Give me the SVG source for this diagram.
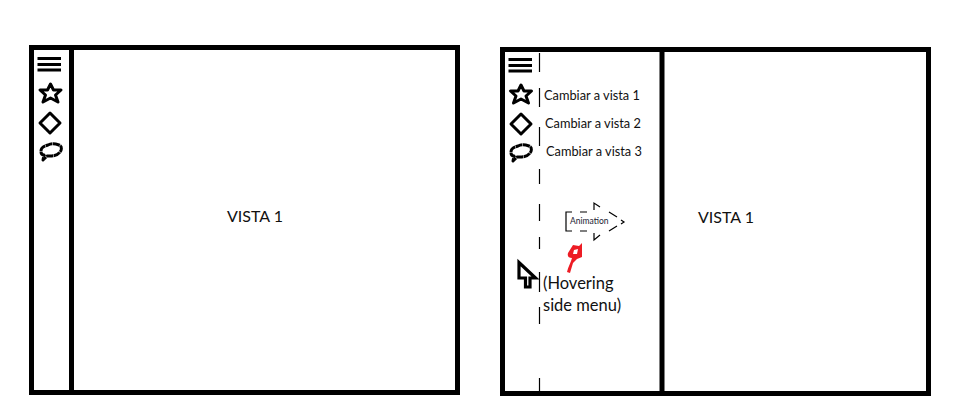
<svg xmlns="http://www.w3.org/2000/svg" width="977" height="418" viewBox="0 0 977 418">
<style>
.frame{fill:none;stroke:#000;stroke-width:5}
.ico{fill:none;stroke:#000;stroke-width:3;stroke-linejoin:round}
.bar{fill:#000}
text{font-family:Lato,"Open Sans","Liberation Sans",sans-serif;fill:#111}
.v{font-size:16px}
.m{font-size:12.8px}
.h{font-size:16.500px}
.a{font-size:8.500px;fill:#223}
.dash{stroke:#000;stroke-width:1.200;fill:none}
</style>
<rect width="977" height="418" fill="#fff"/>
<defs>
<g id="burger"><rect class="bar" x="0" y="0" width="23.500" height="3"/><rect class="bar" x="0" y="6" width="23.500" height="3"/><rect class="bar" x="0" y="11.500" width="23.500" height="3"/></g>
<path id="star" class="ico" d="M0-9 L3-3 L10.500-3 L5 2 L7.500 9 L0 5 L-7.500 9 L-5 2 L-10.500-3 L-3-3Z"/>
<path id="diamond" class="ico" d="M0-10 L10 0 L0 10 L-10 0Z"/>
<path id="bubble" class="ico" stroke-dasharray="7 0.500" d="M-10-1 C-10-5-6-6-3-7 C1-9 5-8 8-7 C11-6 11-2 9 0 C7 3 3 4-1 4 L-4 4 L-8 8 L-7 3 C-10 3-10 1-10-1Z"/>
</defs>
<g id="left-frame"><rect class="frame" x="31.500" y="47.500" width="426" height="345"/><path class="frame" d="M71.500 47.500V392.500"/></g>
<g id="left-menu">
<use href="#burger" x="37.500" y="57"/>
<use href="#star" x="50.500" y="93"/>
<use href="#diamond" x="50" y="123"/>
<use href="#bubble" x="51" y="152"/>
</g>
<g id="left-view"><text class="v" x="227" y="222">VISTA 1</text></g>
<g id="right-frame"><rect class="frame" x="502.500" y="49.500" width="426" height="344"/><path class="frame" d="M662 49.500V393.500"/></g>
<g id="right-menu">
<use href="#burger" x="508.500" y="58"/>
<use href="#star" x="521" y="94"/>
<use href="#diamond" x="521" y="124"/>
<use href="#bubble" x="521" y="153"/>
<text class="m" x="544" y="100">Cambiar a vista 1</text>
<text class="m" x="545" y="128">Cambiar a vista 2</text>
<text class="m" x="546" y="156">Cambiar a vista 3</text>
</g>
<g id="connectors">
<path class="dash" d="M539.500 53V72M539.500 88V107M539.500 127V146M539.500 169V184M539.500 204V221M539.500 237V249M539.500 272V292M539.500 307V324M539.500 378V391"/>
</g>
<g id="animation">
<path class="dash" stroke-width="1" d="M572 212H566V231H572M580 212H587M580 231H587M594 210V203L600 207M609 212L617 217M621 220L624 222L621 224M617 226L609 231M600 235L594 240V233"/>
<text class="a" x="570" y="224">Animation</text>
<path d="M567 272C568 267 571 262 572 258C569 258 567 257 568 253L573 245L579 246L582 243L582 257L577 259L573 263L570 273Z M574 250L573 254L577 254L578 249Z" fill="#ed1c24" fill-rule="evenodd"/>
</g>
<g id="cursor">
<path fill="none" stroke="#000" stroke-width="3.200" d="M519 262.500V278H525.500V287H530V278H535.500Z"/>
<text class="h" x="543" y="289">(Hovering</text>
<text class="h" x="543" y="311">side menu)</text>
</g>
<g id="right-view"><text class="v" x="698" y="223">VISTA 1</text></g>
</svg>
